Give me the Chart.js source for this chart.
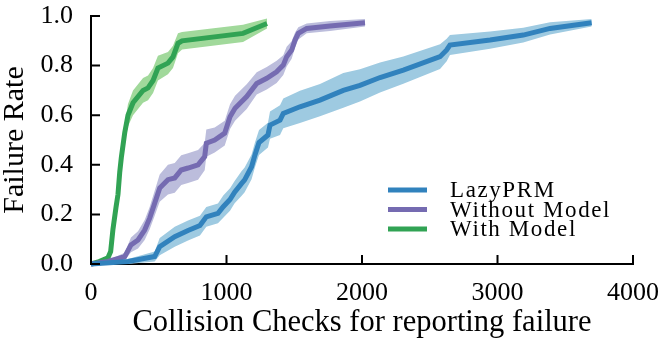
<!DOCTYPE html>
<html>
<head>
<meta charset="utf-8">
<script src="https://cdn.jsdelivr.net/npm/chart.js@4/dist/chart.umd.min.js"></script>
<style>
  html, body { margin: 0; padding: 0; background: #fff; }
  #wrap { width: 665px; height: 344px; }
</style>
</head>
<body>
<div id="wrap"><canvas id="myChart" width="665" height="344"></canvas></div>
<script>
// LazyPRM
const lazyX = [0, 273, 470, 507, 618, 716, 804, 851, 937, 976, 1026, 1060, 1112, 1134, 1185, 1210, 1240, 1306, 1321, 1395, 1419, 1542, 1690, 1862, 1985, 2133, 2305, 2576, 2625, 2649, 2945, 3190, 3388, 3695];
const lazyY = [0, 0.01, 0.03, 0.07, 0.11, 0.135, 0.155, 0.19, 0.204, 0.231, 0.26, 0.29, 0.325, 0.339, 0.392, 0.44, 0.49, 0.52, 0.56, 0.58, 0.607, 0.634, 0.661, 0.70, 0.72, 0.752, 0.782, 0.836, 0.863, 0.883, 0.903, 0.923, 0.95, 0.973];
const lazyLow = [0, 0, 0.01, 0.035, 0.07, 0.095, 0.115, 0.15, 0.164, 0.186, 0.215, 0.245, 0.275, 0.289, 0.342, 0.39, 0.44, 0.47, 0.505, 0.52, 0.547, 0.569, 0.596, 0.63, 0.655, 0.692, 0.727, 0.786, 0.818, 0.843, 0.868, 0.893, 0.925, 0.958];
const lazyHigh = [0, 0.02, 0.05, 0.105, 0.15, 0.175, 0.195, 0.23, 0.244, 0.276, 0.305, 0.335, 0.375, 0.389, 0.442, 0.49, 0.54, 0.57, 0.615, 0.64, 0.667, 0.699, 0.726, 0.77, 0.785, 0.812, 0.837, 0.886, 0.908, 0.923, 0.938, 0.953, 0.975, 0.988];

// Without Model
const withoutX = [0, 125, 249, 295, 347, 396, 433, 470, 507, 568, 618, 666, 716, 790, 839, 851, 913, 987, 1026, 1063, 1149, 1223, 1297, 1370, 1419, 1444, 1481, 1506, 1530, 1592, 1764, 2022];
const withoutY = [0, 0.01, 0.03, 0.077, 0.097, 0.137, 0.185, 0.245, 0.306, 0.34, 0.347, 0.379, 0.387, 0.40, 0.433, 0.487, 0.50, 0.528, 0.594, 0.628, 0.675, 0.728, 0.749, 0.775, 0.802, 0.836, 0.863, 0.903, 0.93, 0.95, 0.96, 0.973];
const withoutLow = [0, 0.005, 0.015, 0.047, 0.062, 0.097, 0.14, 0.195, 0.251, 0.28, 0.287, 0.319, 0.327, 0.34, 0.378, 0.432, 0.45, 0.478, 0.544, 0.578, 0.625, 0.683, 0.704, 0.73, 0.762, 0.796, 0.828, 0.873, 0.905, 0.93, 0.94, 0.958];
const withoutHigh = [0, 0.015, 0.045, 0.107, 0.132, 0.177, 0.23, 0.295, 0.361, 0.40, 0.407, 0.439, 0.447, 0.46, 0.488, 0.542, 0.55, 0.578, 0.644, 0.678, 0.725, 0.773, 0.794, 0.82, 0.842, 0.876, 0.898, 0.933, 0.955, 0.97, 0.98, 0.988];

// With Model
const withX = [0, 60, 125, 145, 162, 185, 199, 212, 224, 249, 273, 310, 384, 421, 458, 494, 568, 605, 642, 672, 1122, 1299];
const withY = [0, 0.01, 0.025, 0.05, 0.14, 0.23, 0.28, 0.37, 0.43, 0.53, 0.6, 0.65, 0.70, 0.71, 0.74, 0.79, 0.81, 0.835, 0.89, 0.90, 0.93, 0.97];
const withLow = [0, 0.005, 0.015, 0.04, 0.125, 0.21, 0.26, 0.345, 0.40, 0.495, 0.555, 0.60, 0.65, 0.66, 0.69, 0.74, 0.765, 0.79, 0.85, 0.865, 0.895, 0.95];
const withHigh = [0, 0.015, 0.035, 0.06, 0.155, 0.25, 0.30, 0.395, 0.46, 0.565, 0.645, 0.70, 0.75, 0.76, 0.79, 0.84, 0.855, 0.88, 0.93, 0.935, 0.965, 0.99];

const xTicks = [0, 1000, 2000, 3000, 4000];
const yTicks = [0, 0.2, 0.4, 0.6, 0.8, 1.0];

const series = [
    { label: "LazyPRM", x: lazyX, y: lazyY, low: lazyLow, high: lazyHigh, line: "#3182bd", band: "#9ecae1" },
    { label: "Without Model", x: withoutX, y: withoutY, low: withoutLow, high: withoutHigh, line: "#756bb1", band: "#bcbddc" },
    { label: "With Model", x: withX, y: withY, low: withLow, high: withHigh, line: "#31a354", band: "#a1d99b" },
];

const serif = "'Liberation Serif', 'Times New Roman', serif";

function pts(xs, ys) {
    return xs.map((x, i) => ({ x: x, y: ys[i] }));
}

let datasets = [];
series.forEach((s) => {
    datasets.push({
        label: s.label + " high",
        data: pts(s.x, s.high),
        borderWidth: 0,
        pointRadius: 0,
        backgroundColor: s.band,
        fill: "+1",
        order: 2,
    });
    datasets.push({
        label: s.label + " low",
        data: pts(s.x, s.low),
        borderWidth: 0,
        pointRadius: 0,
        fill: false,
        order: 2,
    });
});
series.forEach((s) => {
    datasets.push({
        label: s.label,
        data: pts(s.x, s.y),
        borderColor: s.line,
        borderWidth: 5,
        pointRadius: 0,
        fill: false,
        tension: 0,
        order: 1,
        inLegend: true,
    });
});

// ticks drawn pointing inwards, like the matplotlib figure
const innerTicks = {
    id: "innerTicks",
    afterDatasetsDraw(chart) {
        const ctx = chart.ctx;
        const xs = chart.scales.x;
        const ys = chart.scales.y;
        const area = chart.chartArea;
        ctx.save();
        ctx.strokeStyle = "#000";
        ctx.lineWidth = 2;
        ctx.beginPath();
        xs.ticks.forEach((t) => {
            let px = xs.getPixelForValue(t.value);
            ctx.moveTo(px, area.bottom);
            ctx.lineTo(px, area.bottom - 9);
        });
        ys.ticks.forEach((t) => {
            let py = ys.getPixelForValue(t.value);
            ctx.moveTo(area.left, py);
            ctx.lineTo(area.left + 9, py);
        });
        ctx.stroke();
        ctx.restore();
    },
};

const boxLegend = {
    id: "boxLegend",
    afterDraw(chart) {
        const ctx = chart.ctx;
        let items = chart.data.datasets.filter((d) => d.inLegend);
        ctx.save();
        ctx.font = "23px " + serif;
        ctx.letterSpacing = "1.6px";
        ctx.textBaseline = "middle";
        ctx.fillStyle = "#000";
        items.forEach((d, i) => {
            let y = 190 + i * 19.5;
            ctx.strokeStyle = d.borderColor;
            ctx.lineWidth = 5;
            ctx.beginPath();
            ctx.moveTo(388, y);
            ctx.lineTo(427, y);
            ctx.stroke();
            ctx.fillText(d.label, 450, y + 1);
        });
        ctx.restore();
    },
};

Chart.defaults.font.family = serif;
Chart.defaults.color = "#000";

let ctx = document.getElementById("myChart").getContext("2d");
let myChart = new Chart(ctx, {
    type: "line",
    data: { datasets: datasets },
    options: {
        responsive: false,
        animation: false,
        clip: false,
        layout: {
            padding: { top: 16, right: 32, left: 0, bottom: 0 },
        },
        plugins: {
            legend: { display: false },
            tooltip: { enabled: false },
        },
        scales: {
            x: {
                type: "linear",
                min: 0,
                max: 4000,
                afterBuildTicks: (scale) => {
                    scale.ticks = xTicks.map((v) => ({ value: v }));
                },
                afterFit: (scale) => {
                    scale.height = 80;
                    scale.paddingLeft = 0;
                    scale.paddingRight = 0;
                },
                grid: { display: false },
                border: { display: true, color: "#000", width: 2 },
                ticks: {
                    padding: 6,
                    font: { size: 26 },
                    callback: (v) => String(v),
                },
                title: {
                    display: true,
                    text: "Collision Checks for reporting failure",
                    font: { size: 30.5, lineHeight: 1 },
                    padding: { top: 0, bottom: 6 },
                },
            },
            y: {
                type: "linear",
                min: 0,
                max: 1,
                afterBuildTicks: (scale) => {
                    scale.ticks = yTicks.map((v) => ({ value: v }));
                },
                afterFit: (scale) => {
                    scale.width = 91;
                    scale.paddingTop = 0;
                    scale.paddingBottom = 0;
                },
                grid: { display: false },
                border: { display: true, color: "#000", width: 2 },
                ticks: {
                    padding: 10,
                    font: { size: 26 },
                    callback: (v) => v.toFixed(1),
                },
                title: {
                    display: true,
                    text: "Failure Rate",
                    font: { size: 30, lineHeight: 1 },
                    padding: { top: 0, bottom: 0 },
                },
            },
        },
    },
    plugins: [innerTicks, boxLegend],
});
</script>
</body>
</html>
